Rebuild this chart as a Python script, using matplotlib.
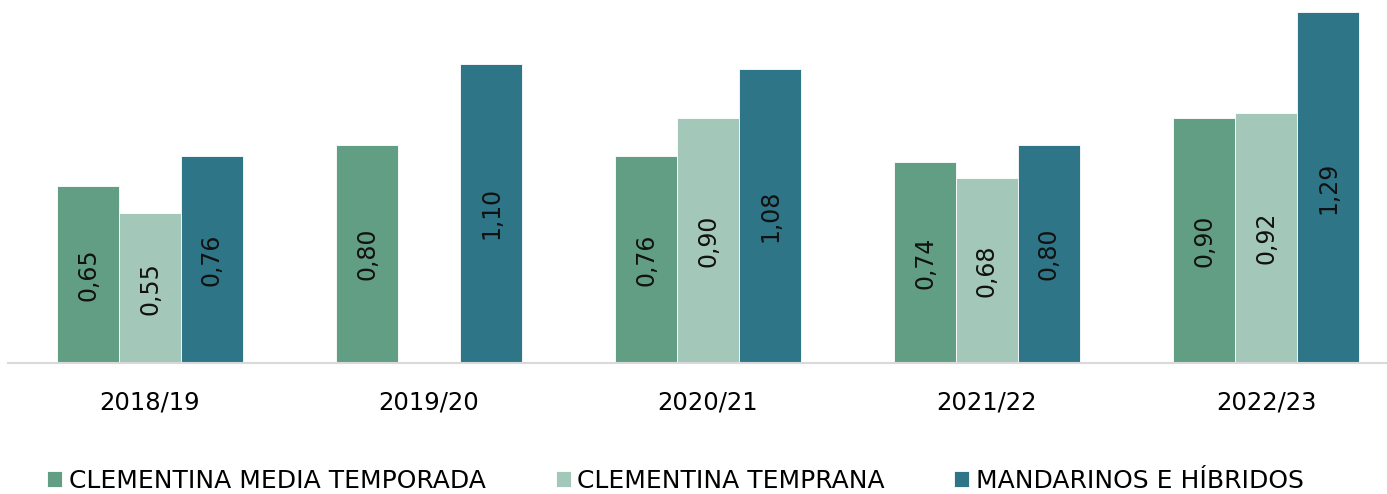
import matplotlib
matplotlib.use("Agg")
import matplotlib.pyplot as plt
import numpy as np

categories = ["2018/19", "2019/20", "2020/21", "2021/22", "2022/23"]
series_names = ["CLEMENTINA MEDIA TEMPORADA", "CLEMENTINA TEMPRANA", "MANDARINOS E HÍBRIDOS"]
media = [0.65, 0.80, 0.76, 0.74, 0.90]
temprana = [0.55, None, 0.90, 0.68, 0.92]
mandarinos = [0.76, 1.10, 1.08, 0.80, 1.29]
colors = ["#629E83", "#A3C7B8", "#2E7587"]

plt.rcParams['font.family'] = ['DejaVu Sans']

W, H = 1387, 494
fig = plt.figure(figsize=(W/100, H/100), dpi=100)
ax_left, ax_right = 8, 1387
ax_bottom = 363
ax = fig.add_axes([ax_left/W, (H-ax_bottom)/H, (ax_right-ax_left)/W, ax_bottom/H])

x = np.arange(len(categories))
bw = 0.222
data = [media, temprana, mandarinos]
handles = []
for i, (vals, c, name) in enumerate(zip(data, colors, series_names)):
    xs = [xi + (i-1)*bw for xi, v in zip(x, vals) if v is not None]
    vs = [v for v in vals if v is not None]
    bars = ax.bar(xs, vs, width=bw, color=c, edgecolor="white", linewidth=0.6, label=name)
    handles.append(bars)
    for xi, v in zip(xs, vs):
        ax.text(xi, v/2, f"{v:.2f}".replace(".", ","), rotation=90, ha="center", va="center",
                fontsize=17, color="#111111")

ax.set_xlim((ax_left-150)/279, (ax_right-150)/279)
ax.set_ylim(0, ax_bottom/272)
ax.set_yticks([])
ax.set_xticks(x)
ax.set_xticklabels(categories, fontsize=17.5)
ax.tick_params(axis="x", length=0, pad=20)
for s in ["top", "right", "left"]:
    ax.spines[s].set_visible(False)
ax.spines["bottom"].set_color("#D9D9D9")
ax.spines["bottom"].set_linewidth(1.5)

leg = fig.legend(handles=handles, labels=series_names, loc="center", bbox_to_anchor=(0.487, 1-481/H),
                 ncol=3, frameon=False, fontsize=18, handlelength=0.6, handleheight=0.6,
                 handletextpad=0.25, columnspacing=2.8, borderpad=0, borderaxespad=0)

fig.savefig("out.png", dpi=100)
